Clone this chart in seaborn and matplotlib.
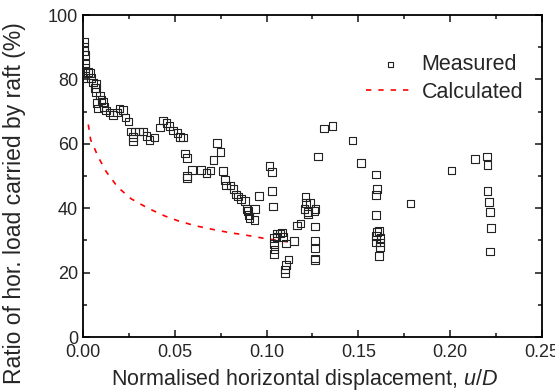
import matplotlib
matplotlib.use("Agg")
import matplotlib.pyplot as plt
from matplotlib.ticker import MultipleLocator
import seaborn as sns
import pandas as pd

# Measured ratio of horizontal load carried by the raft (%)
measured_u_d = [
    0.0005, 0.0005, 0.0006, 0.0010, 0.0010, 0.0012, 0.0010, 0.0010, 0.0027, 0.0038,
    0.0044, 0.0055, 0.0070, 0.0065, 0.0070, 0.0093, 0.0100, 0.0073, 0.0082, 0.0110,
    0.0116, 0.0127, 0.0145, 0.0163, 0.0185, 0.0200, 0.0218, 0.0232, 0.0249, 0.0260,
    0.0272, 0.0272, 0.0285, 0.0305, 0.0327, 0.0345, 0.0363, 0.0390, 0.0418, 0.0436,
    0.0454, 0.0472, 0.0490, 0.0514, 0.0527, 0.0545, 0.0557, 0.0566, 0.0566, 0.0566,
    0.0595, 0.0644, 0.0672, 0.0695, 0.0712, 0.0731, 0.0750, 0.0763, 0.0772, 0.0780,
    0.0804, 0.0820, 0.0832, 0.0844, 0.0862, 0.0884, 0.0890, 0.0899, 0.0902, 0.0908,
    0.0935, 0.0938, 0.0959, 0.1017, 0.1029, 0.1029, 0.1035, 0.1039, 0.1040, 0.1043,
    0.1039, 0.1055, 0.1057, 0.1072, 0.1084, 0.1090, 0.1107, 0.1120, 0.1107, 0.1102,
    0.1102, 0.1149, 0.1167, 0.1184, 0.1211, 0.1216, 0.1236, 0.1207, 0.1222, 0.1226,
    0.1267, 0.1262, 0.1265, 0.1265, 0.1265, 0.1265, 0.1265, 0.1280, 0.1313, 0.1360,
    0.1469, 0.1513, 0.1596, 0.1600, 0.1596, 0.1596, 0.1600, 0.1614, 0.1596, 0.1621,
    0.1596, 0.1618, 0.1618, 0.1614, 0.1783, 0.2008, 0.2135, 0.2202, 0.2204, 0.2204,
    0.2211, 0.2217, 0.2221, 0.2217,
]
measured_ratio = [
    91.6, 90.0, 88.8, 87.5, 85.0, 83.5, 82.0, 80.4, 82.3, 82.0,
    80.4, 79.0, 78.6, 77.3, 76.0, 75.0, 73.6, 72.6, 71.0, 73.0,
    71.5, 70.3, 69.7, 69.0, 69.7, 71.0, 70.5, 68.2, 66.9, 63.8,
    62.2, 60.7, 63.8, 63.8, 63.8, 62.5, 61.2, 61.9, 65.1, 67.2,
    66.4, 65.5, 64.1, 63.3, 62.2, 61.9, 57.0, 55.5, 50.0, 49.3,
    51.9, 51.9, 51.0, 51.7, 55.0, 60.3, 57.5, 51.5, 48.8, 47.0,
    47.0, 45.9, 44.3, 43.6, 42.8, 42.3, 39.8, 39.1, 37.9, 36.9,
    36.3, 39.7, 43.8, 53.2, 51.3, 45.4, 40.5, 30.7, 28.9, 27.2,
    25.8, 31.1, 32.2, 32.2, 32.5, 31.1, 29.1, 24.1, 22.4, 21.0,
    19.8, 29.9, 34.6, 35.3, 43.4, 41.7, 41.7, 39.7, 38.9, 38.2,
    39.7, 39.1, 34.3, 29.8, 27.7, 24.4, 23.9, 56.0, 64.8, 65.5,
    61.0, 54.1, 50.5, 46.0, 44.1, 37.9, 32.7, 33.0, 31.4, 30.8,
    29.3, 29.3, 28.0, 25.2, 41.5, 51.7, 55.2, 56.0, 53.4, 45.4,
    42.0, 38.9, 33.8, 26.5,
]

# Calculated ratio
calc_u_d = [0.0029, 0.0042, 0.0060, 0.0082, 0.0127, 0.0190, 0.0263, 0.0354, 0.0445,
            0.0517, 0.0608, 0.0699, 0.0790, 0.0881, 0.0990, 0.1135]
calc_ratio = [66.0, 61.2, 59.0, 56.0, 51.3, 46.5, 42.9, 40.0, 37.6,
              36.1, 34.6, 33.5, 32.5, 31.7, 30.6, 29.4]

x_ticks = [0.00, 0.05, 0.10, 0.15, 0.20, 0.25]
x_tick_labels = ["0.00", "0.05", "0.10", "0.15", "0.20", "0.25"]
y_ticks = [0, 20, 40, 60, 80, 100]

sns.set_style("ticks")
plt.rcParams["font.family"] = ["Liberation Sans", "DejaVu Sans"]
plt.rcParams["mathtext.fontset"] = "custom"
plt.rcParams["mathtext.rm"] = "Liberation Sans"
plt.rcParams["mathtext.it"] = "Liberation Sans:italic"

df_meas = pd.DataFrame({"u_d": measured_u_d, "ratio": measured_ratio})
df_calc = pd.DataFrame({"u_d": calc_u_d, "ratio": calc_ratio})

fig = plt.figure(figsize=(5.55, 3.92), dpi=100)
ax = fig.add_axes([0.1495, 0.1403, 0.827, 0.8214])

sns.scatterplot(data=df_meas, x="u_d", y="ratio", ax=ax, marker="s", s=30,
                facecolor="none", edgecolor="#222222", linewidth=0.8,
                label="Measured", zorder=3)
sns.lineplot(data=df_calc, x="u_d", y="ratio", ax=ax, color="#ff0000",
             linewidth=1.2, linestyle=(0, (3.2, 4.2)), label="Calculated", zorder=2)

ax.set_xlim(0, 0.25)
ax.set_ylim(0, 100)
ax.set_xticks(x_ticks)
ax.set_xticklabels(x_tick_labels)
ax.set_yticks(y_ticks)
ax.xaxis.set_minor_locator(MultipleLocator(0.025))
ax.yaxis.set_minor_locator(MultipleLocator(10))
ax.tick_params(which="both", direction="in", top=True, right=True,
               labelsize=13, width=1.2)
ax.tick_params(axis="x", pad=5)
ax.tick_params(which="major", length=5)
ax.tick_params(which="minor", length=3)
for sp in ax.spines.values():
    sp.set_linewidth(1.3)
    sp.set_color("black")

ax.set_xlabel(r"Normalised horizontal displacement, $\mathit{u/D}$", fontsize=15.5)
ax.set_ylabel("Ratio of hor. load carried by raft (%)", fontsize=16.5)
ax.xaxis.set_label_coords(0.484, -0.093)
ax.yaxis.set_label_coords(-0.124, 0.415)

leg = ax.legend(loc="upper right", bbox_to_anchor=(0.978, 0.906), borderaxespad=0,
                frameon=False, fontsize=15.5, handlelength=2.25, handletextpad=0.33,
                labelspacing=0.31, markerscale=0.7)

fig.savefig("out.png", dpi=100)
